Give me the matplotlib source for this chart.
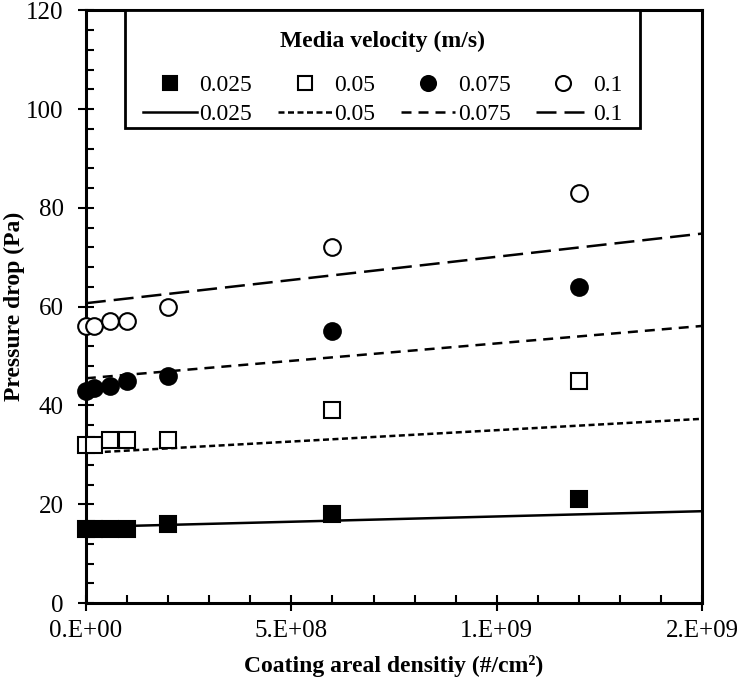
import numpy as np
import matplotlib
matplotlib.use("Agg")
import matplotlib.pyplot as plt
from matplotlib.ticker import MultipleLocator
from matplotlib.offsetbox import DrawingArea, VPacker

plt.rcParams['font.family'] = ['Liberation Serif', 'DejaVu Serif']

# coating areal density (#/cm2)
density = [0, 2e7, 6e7, 1e8, 2e8, 6e8, 1.2e9]
velocities = ['0.025', '0.05', '0.075', '0.1']

# measured pressure drop (Pa)
dp_0025 = [15, 15, 15, 15, 16, 18, 21]
dp_005 = [32, 32, 33, 33, 33, 39, 45]
dp_0075 = [43, 43.5, 44, 45, 46, 55, 64]
dp_01 = [56, 56, 57, 57, 60, 72, 83]

# model lines, value at x=0 and x=1.5e9
model_x = [0, 1.5e9]
model_0025 = [15.4, 18.6]
model_005 = [30.4, 37.3]
model_0075 = [45.5, 56.1]
model_01 = [60.7, 74.8]

xticks = [0, 5e8, 1e9, 1.5e9]
xticklabels = ['0.E+00', '5.E+08', '1.E+09', '2.E+09']

fig = plt.figure(figsize=(7.4, 6.83), dpi=100)
ax = fig.add_axes([0.116, 0.117, 0.833, 0.868])

meas = [dp_0025, dp_005, dp_0075, dp_01]
models = [model_0025, model_005, model_0075, model_01]
mk = [('s', 'black', 11), ('s', 'white', 11), ('o', 'black', 12), ('o', 'white', 12)]
dashes = [None, (2.4, 1.4), (4.0, 2.8), (8.0, 3.2)]

handles = []
for i in range(4):
    m, fc, ms = mk[i]
    h1, = ax.plot(density, meas[i], linestyle='none', marker=m, markersize=ms,
                  markerfacecolor=fc, markeredgecolor='black', markeredgewidth=1.5,
                  label=velocities[i], zorder=3, clip_on=False)
    h2, = ax.plot(model_x, models[i], color='black', lw=1.8, label=velocities[i], zorder=2)
    if dashes[i] is not None:
        h2.set_dashes(dashes[i])
    handles += [h1, h2]

ax.set_xlim(0, 1.5e9)
ax.set_ylim(0, 120)
ax.set_xticks(xticks)
ax.set_xticklabels(xticklabels)
ax.xaxis.set_minor_locator(MultipleLocator(1e8))
ax.yaxis.set_major_locator(MultipleLocator(20))
ax.yaxis.set_minor_locator(MultipleLocator(4))
ax.tick_params(which='major', direction='inout', length=11, width=1.5, labelsize=18)
ax.tick_params(axis='x', which='major', pad=7)
ax.tick_params(axis='y', which='major', pad=10.5)
ax.tick_params(which='minor', direction='in', length=6, width=1.5)
for s in ax.spines.values():
    s.set_linewidth(2.2)

ax.set_xlabel('Coating areal densitiy (#/cm²)', fontsize=17, fontweight='bold', labelpad=9)
ax.set_ylabel('Pressure drop (Pa)', fontsize=17, fontweight='bold', labelpad=1)

leg = ax.legend(handles=handles, ncol=4, loc='upper left',
                bbox_to_anchor=(0.063, 1.0, 0.836, 0.0), mode='expand',
                title='Media velocity (m/s)', fontsize=17, fancybox=False,
                edgecolor='black', framealpha=1, handlelength=2.3,
                handletextpad=0.1, columnspacing=0.4, borderaxespad=0,
                labelspacing=0.335, borderpad=0.12, markerscale=0.9)
leg.get_title().set_fontweight('bold')
leg.get_title().set_fontsize(17)
leg.get_frame().set_linewidth(2.0)
# extra room above and below the legend title
title_wrap = VPacker(pad=0, sep=0, align='center',
                     children=[DrawingArea(1, 13), leg._legend_title_box])
leg._legend_box._children[0] = title_wrap
leg._legend_box.sep = 15.8
# keep the entries inset from the frame sides
hbox = leg._legend_handle_box
_orig_set_width = hbox.set_width
hbox.set_width = lambda w: _orig_set_width(w - 30)

fig.savefig('out.png', dpi=100)
